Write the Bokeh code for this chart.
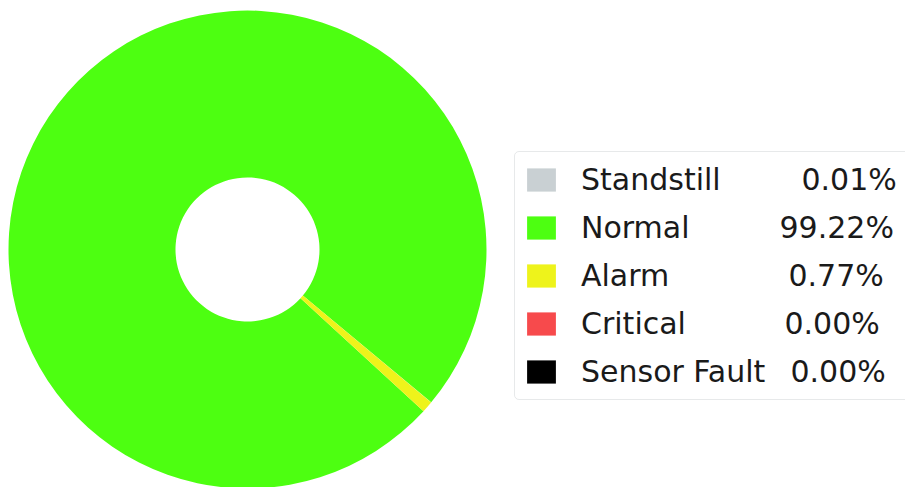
import math
from bokeh.plotting import figure
from bokeh.models import Range1d, Legend, LegendItem, ColumnDataSource
from bokeh.core.properties import value
from bokeh.embed import file_html
from bokeh.resources import INLINE

# ---- data ----
statuses = ["Standstill", "Normal", "Alarm", "Critical", "Sensor Fault"]
percents = [0.01, 99.22, 0.77, 0.00, 0.00]
pct_labels = ["0.01%", "99.22%", "0.77%", "0.00%", "0.00%"]
colors = ["#c9d0d3", "#4dff11", "#eef31b", "#f74a4c", "#000000"]

# ---- layout parameters ----
W, H = 905, 487
cx, cy = 247, H - 249
r_out, r_in = 239, 72
start_deg = -39.8
min_span_deg = 1e-4   # keeps empty slices from being drawn as full rings

starts, ends = [], []
acc = start_deg
for pc in percents:
    span = max(pc / 100.0 * 360.0, min_span_deg)
    starts.append(math.radians(acc))
    ends.append(math.radians(acc + span))
    acc = acc + pc / 100.0 * 360.0

p = figure(width=W, height=H, output_backend="svg", toolbar_location=None,
           x_range=Range1d(0, W), y_range=Range1d(0, H), min_border=0)
p.axis.visible = False
p.grid.visible = False
p.outline_line_color = None
p.background_fill_color = "white"

items = []
for i, s in enumerate(statuses):
    src = ColumnDataSource(dict(x=[cx], y=[cy], s=[starts[i]], e=[ends[i]]))
    r = p.annular_wedge(x="x", y="y", inner_radius=r_in, outer_radius=r_out,
                        start_angle="s", end_angle="e", source=src,
                        fill_color=colors[i], line_color=None)
    items.append(LegendItem(label=s, renderers=[r]))

pad = 8
box_top = 153
item_h, gap = 39, 9
n = len(statuses)
box_h = 2 * pad + n * item_h + (n - 1) * gap
legend = Legend(items=items, location=(514, H - (box_top + box_h)), margin=0,
                padding=pad, spacing=gap, glyph_width=36, glyph_height=29,
                label_height=item_h, label_width=330, label_standoff=22,
                label_text_font="DejaVu Sans", label_text_font_size="30px",
                label_text_color="#1a1a1a",
                border_line_color="#cfd3d6", border_line_width=1.5,
                background_fill_alpha=0.0)
if hasattr(legend, "border_radius"):
    legend.border_radius = 5
p.add_layout(legend)

pct_x = [801, 779, 788, 784, 790]
row_y = [H - (box_top + pad + item_h / 2 + i * (item_h + gap)) + 2 for i in range(n)]
p.text(x=pct_x, y=row_y, text=pct_labels,
       text_font=value("DejaVu Sans"), text_font_size=value("30px"),
       text_color="#1a1a1a", text_baseline="middle", text_align="left")

open("out.html", "w").write(file_html(p, INLINE))
